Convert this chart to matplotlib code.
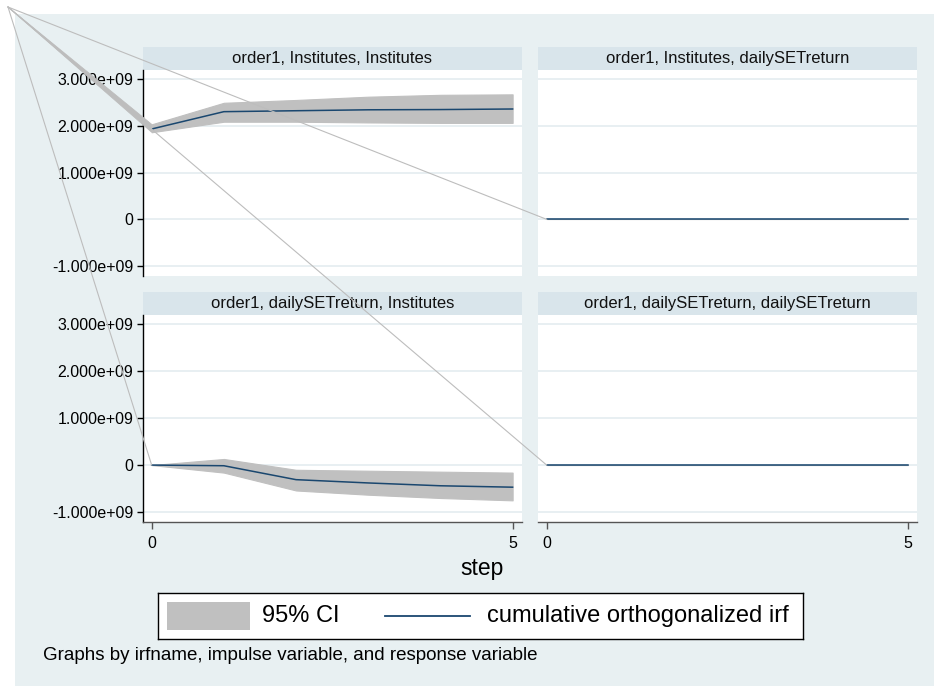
import matplotlib
matplotlib.use("Agg")
import matplotlib.pyplot as plt
from matplotlib.patches import Rectangle, Polygon
from matplotlib.lines import Line2D
from matplotlib.ticker import FixedLocator, FixedFormatter

plt.rcParams["font.family"] = ["Liberation Sans", "DejaVu Sans"]

# ---- data -------------------------------------------------------------
steps = [0, 1, 2, 3, 4, 5]

irf_inst_inst = [1.93e9, 2.30e9, 2.32e9, 2.34e9, 2.345e9, 2.357e9]
lo_inst_inst = [1.86e9, 2.085e9, 2.085e9, 2.07e9, 2.06e9, 2.06e9]
hi_inst_inst = [2.03e9, 2.49e9, 2.55e9, 2.62e9, 2.66e9, 2.67e9]

irf_inst_ret = [0, 0, 0, 0, 0, 0]
lo_inst_ret = [0, 0, 0, 0, 0, 0]
hi_inst_ret = [0, 0, 0, 0, 0, 0]

irf_ret_inst = [0, -0.014e9, -0.31e9, -0.38e9, -0.44e9, -0.47e9]
lo_ret_inst = [0, -0.16e9, -0.54e9, -0.63e9, -0.70e9, -0.75e9]
hi_ret_inst = [0, 0.13e9, -0.10e9, -0.12e9, -0.14e9, -0.16e9]

irf_ret_ret = [0, 0, 0, 0, 0, 0]
lo_ret_ret = [0, 0, 0, 0, 0, 0]
hi_ret_ret = [0, 0, 0, 0, 0, 0]

panel_titles = [
    "order1, Institutes, Institutes",
    "order1, Institutes, dailySETreturn",
    "order1, dailySETreturn, Institutes",
    "order1, dailySETreturn, dailySETreturn",
]
ytick_values = [-1e9, 0, 1e9, 2e9, 3e9]
ytick_labels = ["-1.000e+09", "0", "1.000e+09", "2.000e+09", "3.000e+09"]
xtick_values = [0, 5]
xtick_labels = ["0", "5"]

series = [
    (irf_inst_inst, lo_inst_inst, hi_inst_inst),
    (irf_inst_ret, lo_inst_ret, hi_inst_ret),
    (irf_ret_inst, lo_ret_inst, hi_ret_inst),
    (irf_ret_ret, lo_ret_ret, hi_ret_ret),
]

# ---- style ------------------------------------------------------------
BG = "#E8F0F2"
STRIP = "#D9E5EB"
GRID = "#E6EEF1"
CI = "#C0C0C0"
NAVY = "#1A476F"
STRAY = "#BDBDBD"

W, H = 934, 686
fig = plt.figure(figsize=(W / 100, H / 100), dpi=100, facecolor="white")


def rect(x0, y0, x1, y1):
    return [x0 / W, 1 - y1 / H, (x1 - x0) / W, (y1 - y0) / H]


fig.patches.append(Rectangle((15 / W, 0), 1 - 15 / W, 1 - 14 / H,
                             transform=fig.transFigure, facecolor=BG,
                             edgecolor="none", zorder=-10))

cols = [(143, 522), (538, 917)]
plot_rows = [(70, 276), (315, 522)]
strip_rows = [(47, 70), (292, 315)]

axes = []
for i in range(4):
    r, c = divmod(i, 2)
    x0, x1 = cols[c]
    sy0, sy1 = strip_rows[r]
    py0, py1 = plot_rows[r]

    sax = fig.add_axes(rect(x0, sy0, x1, sy1))
    sax.set_facecolor(STRIP)
    sax.set_xticks([])
    sax.set_yticks([])
    for s in sax.spines.values():
        s.set_visible(False)
    sax.text(0.5, 0.5, panel_titles[i], ha="center", va="center",
             fontsize=12, color="#111111", transform=sax.transAxes)

    ax = fig.add_axes(rect(x0, py0, x1, py1))
    ax.set_facecolor("white")
    irf, lo, hi = series[i]
    ax.fill_between(steps, lo, hi, color=CI, linewidth=0.8, edgecolor=CI, zorder=2)
    ax.plot(steps, irf, color=NAVY, linewidth=1.1, zorder=3)
    ax.set_xlim(-0.12, 5.13)
    ax.set_ylim(-1.21e9, 3.19e9)

    ax.yaxis.set_major_locator(FixedLocator(ytick_values))
    ax.yaxis.set_major_formatter(FixedFormatter(ytick_labels))
    ax.xaxis.set_major_locator(FixedLocator(xtick_values))
    ax.xaxis.set_major_formatter(FixedFormatter(xtick_labels))
    ax.grid(axis="y", color=GRID, linewidth=1.3, zorder=0)
    ax.set_axisbelow(True)

    for s in ax.spines.values():
        s.set_visible(False)
    if c == 0:
        ax.spines["left"].set_visible(True)
        ax.spines["left"].set_color("black")
        ax.spines["left"].set_linewidth(1.0)
        ax.tick_params(axis="y", direction="out", length=4, width=1,
                       labelsize=11.5, pad=3, colors="black")
    else:
        ax.tick_params(axis="y", left=False, labelleft=False)
    if r == 1:
        ax.spines["bottom"].set_visible(True)
        ax.spines["bottom"].set_color("#555555")
        ax.spines["bottom"].set_linewidth(1.0)
        ax.tick_params(axis="x", direction="out", length=5, width=1,
                       labelsize=11.5, pad=5, colors="#555555", labelcolor="black")
    else:
        ax.tick_params(axis="x", bottom=False, labelbottom=False)
    axes.append(ax)

# axis title and note
fig.text(482 / W, 1 - 568 / H, "step", ha="center", va="center", fontsize=16.5)
fig.text(43 / W, 1 - 656 / H,
         "Graphs by irfname, impulse variable, and response variable",
         ha="left", va="center", fontsize=13.5)

# legend box
LY0, LY1 = 593, 639
LYC = (LY0 + LY1) / 2
lax = fig.add_axes(rect(158, LY0, 803, LY1))
lax.set_xlim(158, 803)
lax.set_ylim(LY1, LY0)
lax.set_facecolor("white")
lax.set_xticks([])
lax.set_yticks([])
for s in lax.spines.values():
    s.set_color("black")
    s.set_linewidth(1.0)
lax.add_patch(Rectangle((167, LYC - 14), 83, 28, facecolor=CI, edgecolor="none"))
lax.text(262, LYC, "95% CI", ha="left", va="center", fontsize=17)
lax.plot([385, 470], [LYC, LYC], color=NAVY, linewidth=1.3)
lax.text(487, LYC, "cumulative orthogonalized irf", ha="left", va="center",
         fontsize=17)

# stray strokes running from the page corner to each panel's first point
inv = fig.transFigure.inverted()
corner = (8 / W, 1 - 7 / H)


def to_fig(ax, x, y):
    return inv.transform(ax.transData.transform((x, y)))


for i, ax in enumerate(axes):
    irf, lo, hi = series[i]
    if hi[0] != lo[0]:
        p_hi = to_fig(ax, steps[0], hi[0])
        p_lo = to_fig(ax, steps[0], lo[0])
        fig.add_artist(Polygon([corner, p_hi, p_lo], closed=True,
                               transform=fig.transFigure, facecolor=STRAY,
                               edgecolor=STRAY, linewidth=0.6, zorder=5))
    p = to_fig(ax, steps[0], irf[0])
    fig.add_artist(Line2D([corner[0], p[0]], [corner[1], p[1]],
                          transform=fig.transFigure, color=STRAY,
                          linewidth=0.8, zorder=5))

fig.savefig("out.png", dpi=100, facecolor="white")
